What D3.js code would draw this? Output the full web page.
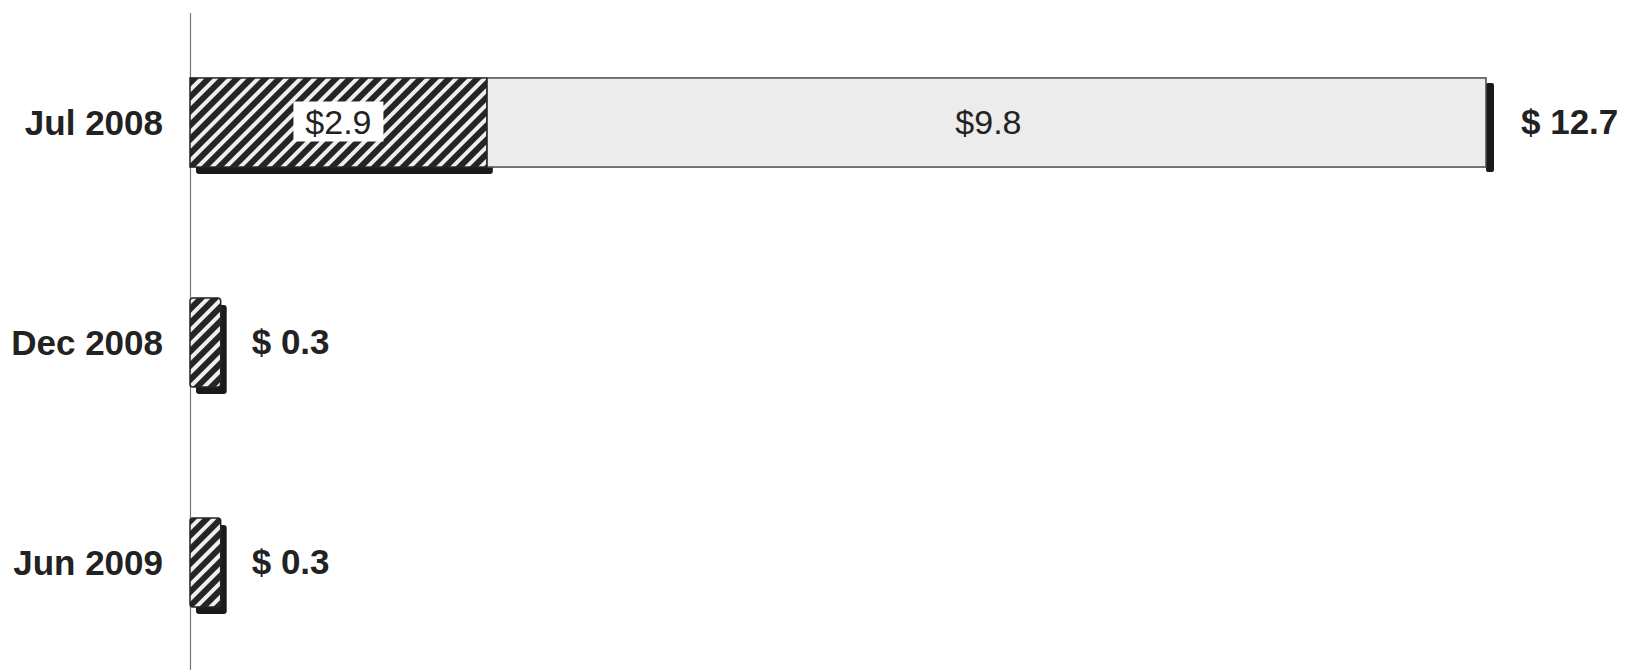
<!DOCTYPE html>
<html>
<head>
<meta charset="utf-8">
<script src="https://cdn.jsdelivr.net/npm/d3@7"></script>
<style>
  html, body { margin: 0; padding: 0; background: #fff; }
  svg { display: block; font-family: "Liberation Sans", Arial, sans-serif; }
</style>
</head>
<body>
<svg id="chart" width="1627" height="670"></svg>
<script>
// data
const categories = ["Jul 2008", "Dec 2008", "Jun 2009"]
const hatchedValues = [2.9, 0.3, 0.3]
const grayValues = [9.8, 0, 0]
const totalLabels = ["$ 12.7", "$ 0.3", "$ 0.3"]
const innerLabels = [["$2.9", "$9.8"], null, null]

const svg = d3.select("#chart")

const rows = categories.map((c, i) => ({
    cat: c,
    a: hatchedValues[i],
    b: grayValues[i],
    total: hatchedValues[i] + grayValues[i],
    label: totalLabels[i],
    inner: innerLabels[i]
}))

const x = d3.scaleLinear().domain([0, 12.7]).range([190, 1490])
const y = d3.scaleBand()
    .domain(categories)
    .range([12.5, 672.5])
    .paddingInner(0.595)
    .paddingOuter(0.2975)
const bw = y.bandwidth()

// hatch pattern
const defs = svg.append("defs")
const pat = defs.append("pattern")
    .attr("id", "hatch")
    .attr("patternUnits", "userSpaceOnUse")
    .attr("width", 10)
    .attr("height", 10)
    .attr("patternTransform", "rotate(45)")
pat.append("rect").attr("width", 10).attr("height", 10).attr("fill", "#efefef")
pat.append("rect").attr("width", 6).attr("height", 10).attr("fill", "#252525")

// axis line (no ticks)
svg.append("g")
    .attr("transform", "translate(190,0)")
    .call(d3.axisLeft(y).tickSize(0).tickFormat(""))
    .call(g => g.select(".domain").attr("stroke", "#777").attr("stroke-width", 1.2))

const gs = svg.selectAll("g.bar")
    .data(rows)
    .enter()
    .append("g")
    .attr("class", "bar")

// shadows
gs.append("rect")
    .attr("x", d => x(0) + 6)
    .attr("y", d => y(d.cat) + 7)
    .attr("width", d => x(d.a) - x(0))
    .attr("height", bw)
    .attr("rx", 3)
    .attr("fill", "#1a1a1a")

gs.filter(d => d.b > 0).append("rect")
    .attr("x", d => x(d.total) - 4)
    .attr("y", d => y(d.cat) + 5)
    .attr("width", 8)
    .attr("height", bw)
    .attr("rx", 2)
    .attr("fill", "#1a1a1a")

// gray segment
gs.filter(d => d.b > 0).append("rect")
    .attr("x", d => x(d.a))
    .attr("y", d => y(d.cat))
    .attr("width", d => x(d.total) - x(d.a) - 4)
    .attr("height", bw)
    .attr("fill", "#ececec")
    .attr("stroke", "#4a4a4a")
    .attr("stroke-width", 1.5)

// hatched segment
gs.append("rect")
    .attr("x", x(0))
    .attr("y", d => y(d.cat))
    .attr("width", d => x(d.a) - x(0))
    .attr("height", bw)
    .attr("rx", d => d.b > 0 ? 0 : 3)
    .attr("fill", "url(#hatch)")
    .attr("stroke", "#252525")
    .attr("stroke-width", 1.5)

// inner labels
gs.filter(d => d.inner).each(function(d) {
    const g = d3.select(this)
    const cy = y(d.cat) + bw / 2
    const segs = [[0, d.a], [d.a, d.total]]
    segs.forEach((s, k) => {
        const cx = (x(s[0]) + x(s[1])) / 2
        if (k === 0) {
            g.append("rect")
                .attr("x", cx - 45)
                .attr("y", cy - 21)
                .attr("width", 90)
                .attr("height", 40)
                .attr("fill", "#fff")
        }
        g.append("text")
            .attr("x", cx)
            .attr("y", cy)
            .attr("dy", "0.35em")
            .attr("text-anchor", "middle")
            .attr("font-size", 34)
            .attr("fill", "#222")
            .text(d.inner[k])
    })
})

// category labels
gs.append("text")
    .attr("x", 163)
    .attr("y", d => y(d.cat) + bw / 2)
    .attr("dy", "0.35em")
    .attr("text-anchor", "end")
    .attr("font-size", 35)
    .attr("font-weight", "bold")
    .attr("fill", "#222")
    .text(d => d.cat)

// total labels
gs.append("text")
    .attr("x", d => x(d.total) + 31)
    .attr("y", d => y(d.cat) + bw / 2 - 1)
    .attr("dy", "0.35em")
    .attr("font-size", 35)
    .attr("font-weight", "bold")
    .attr("fill", "#222")
    .text(d => d.label)
</script>
</body>
</html>
